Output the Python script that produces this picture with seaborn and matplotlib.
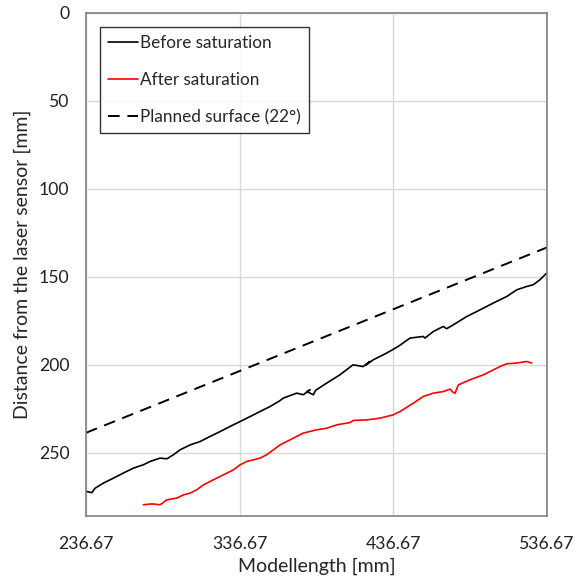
import numpy as np
import pandas as pd
import seaborn as sns
from matplotlib import pyplot as plt

# values (mm)
before_x = [236.67, 237.1, 240.4, 242.5, 247.9, 254.4, 260.9, 267.4, 273.9, 278.3,
            284.8, 289.2, 293.5, 297.8, 304.3, 310.8, 317.3, 323.9, 330.4, 336.9,
            343.4, 349.9, 356.4, 362.9, 365.0, 373.7, 378.0, 382.4, 380.2, 384.6,
            386.0, 391.4, 401.8, 410.4, 416.9, 421.3, 418.5, 423.5, 432.1, 439.7,
            447.5, 456.1, 457.2, 462.6, 469.1, 471.3, 475.6, 484.3, 493.0, 501.7,
            510.4, 516.9, 523.4, 527.7, 532.0, 536.4]
before_y = [272.5, 272.0, 272.6, 270.1, 267.2, 264.4, 261.5, 258.7, 256.8, 254.9,
            253.0, 253.4, 251.1, 248.3, 245.5, 243.6, 240.7, 237.9, 235.0, 232.2,
            229.4, 226.5, 223.7, 220.3, 218.9, 216.1, 217.0, 214.2, 215.2, 217.0,
            214.5, 211.4, 205.7, 200.0, 201.0, 198.1, 200.2, 197.2, 193.4, 189.6,
            184.8, 183.9, 184.8, 181.1, 178.2, 179.5, 177.3, 172.6, 168.8, 164.9,
            161.2, 157.4, 155.5, 154.5, 151.7, 147.9]

after_x = [273.9, 279.4, 284.8, 289.2, 295.7, 300.0, 304.3, 308.7, 313.0, 319.5,
           326.0, 332.5, 336.9, 341.2, 345.5, 349.9, 354.2, 358.5, 362.9, 369.4,
           378.0, 386.8, 393.3, 399.8, 408.4, 410.6, 419.3, 428.0, 436.6, 441.0,
           449.6, 456.1, 462.6, 469.1, 473.5, 475.6, 476.8, 478.9, 486.5, 495.2,
           506.0, 510.4, 516.9, 523.4, 526.6]
after_y = [279.5, 279.0, 279.5, 276.7, 275.7, 273.9, 272.9, 271.0, 268.2, 265.3,
           262.5, 259.7, 256.8, 254.9, 254.0, 253.0, 251.1, 248.3, 245.5, 242.6,
           238.8, 236.9, 236.0, 234.1, 232.8, 231.6, 231.3, 230.3, 228.4, 226.5,
           221.8, 218.0, 216.1, 215.2, 213.8, 215.7, 216.1, 211.4, 208.5, 205.7,
           201.0, 199.4, 199.0, 198.1, 199.0]

planned_x = [236.67, 536.67]
planned_y = [238.6, 133.3]

x_ticks = [236.67, 336.67, 436.67, 536.67]
y_ticks = [0, 50, 100, 150, 200, 250]

sns.set_style("white")
plt.rcParams['font.family'] = ['Lato', 'DejaVu Sans']

fig = plt.figure(figsize=(5.82, 5.80), dpi=100)
ax = fig.add_axes([0.148, 0.110, 0.792, 0.868])

before = pd.DataFrame({'x': before_x, 'y': before_y})
after = pd.DataFrame({'x': after_x, 'y': after_y})
planned = pd.DataFrame({'x': planned_x, 'y': planned_y})

sns.lineplot(data=before, x='x', y='y', sort=False, color='black', lw=1.2,
             ax=ax, label='Before saturation')
sns.lineplot(data=after, x='x', y='y', sort=False, color='#ff0000', lw=1.2,
             ax=ax, label='After saturation')
sns.lineplot(data=planned, x='x', y='y', sort=False, color='black', lw=1.4,
             dashes=False, ax=ax, label='Planned surface (22°)')
ax.lines[-1].set_dashes([6, 4])

ax.set_xlim(236.67, 536.67)
ax.set_ylim(286, 0)
ax.set_xticks(x_ticks)
ax.set_xticklabels([f'{t:.2f}' for t in x_ticks])
ax.set_yticks(y_ticks)
ax.tick_params(labelsize=12.7, length=0, colors='#222222')
ax.tick_params(axis='x', pad=14)
ax.tick_params(axis='y', pad=12)
ax.grid(True, color='#d9d9d9', lw=1)
for s in ax.spines.values():
    s.set_color('#808080')
    s.set_linewidth(1.2)

ax.set_xlabel('Modellength [mm]', fontsize=14, labelpad=4)
ax.set_ylabel('Distance from the laser sensor [mm]', fontsize=14, labelpad=6)

leg = ax.legend(loc='upper left', bbox_to_anchor=(0.03, 0.972), fontsize=12.3,
                frameon=True, fancybox=False, handlelength=1.8, handletextpad=0.1,
                labelspacing=1.25, borderpad=0.45, borderaxespad=0)
leg.get_frame().set_edgecolor('black')
leg.get_frame().set_linewidth(1.0)

fig.savefig('out.png', dpi=100)
